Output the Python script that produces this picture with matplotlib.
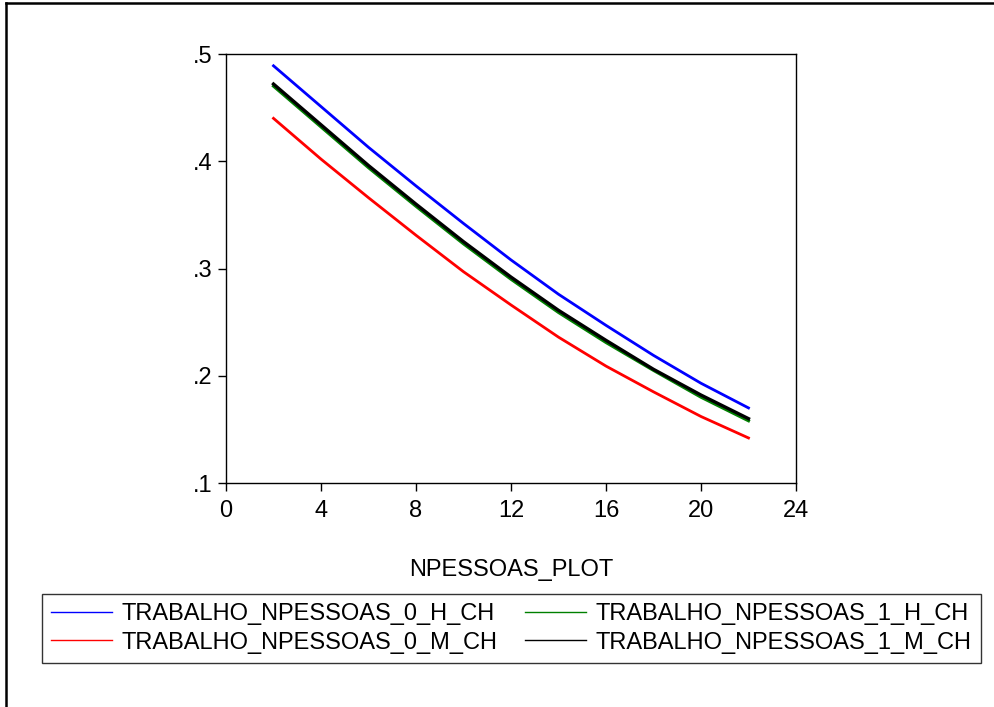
import matplotlib
matplotlib.use("Agg")
import matplotlib.pyplot as plt
from matplotlib.lines import Line2D

plt.rcParams['font.family'] = ['Liberation Sans', 'DejaVu Sans']

npessoas = [2, 4, 6, 8, 10, 12, 14, 16, 18, 20, 22]
h0 = [0.489, 0.451, 0.413, 0.377, 0.342, 0.308, 0.276, 0.247, 0.219, 0.193, 0.170]
m0 = [0.440, 0.402, 0.366, 0.331, 0.297, 0.266, 0.236, 0.209, 0.185, 0.162, 0.142]
h1 = [0.470, 0.432, 0.394, 0.358, 0.323, 0.290, 0.259, 0.231, 0.205, 0.180, 0.158]
m1 = [0.472, 0.434, 0.396, 0.360, 0.325, 0.292, 0.261, 0.233, 0.206, 0.182, 0.160]

labels = ["TRABALHO_NPESSOAS_0_H_CH", "TRABALHO_NPESSOAS_0_M_CH",
          "TRABALHO_NPESSOAS_1_H_CH", "TRABALHO_NPESSOAS_1_M_CH"]
xticks = [0, 4, 8, 12, 16, 20, 24]
yticks = [0.1, 0.2, 0.3, 0.4, 0.5]
yticklabels = [".1", ".2", ".3", ".4", ".5"]

FS = 17
W, H = 995, 707
fig = plt.figure(figsize=(W / 100, H / 100), dpi=100)
ax = fig.add_axes([226 / W, 1 - 483 / H, (796 - 226) / W, (483 - 54) / H])

ax.plot(npessoas, h0, color=(0, 0, 1), lw=2.0)
ax.plot(npessoas, m0, color=(1, 0, 0), lw=2.0)
ax.plot(npessoas, h1, color=(0, 0.5, 0), lw=2.2)
ax.plot(npessoas, m1, color='black', lw=2.4)

ax.set_xlim(0, 24)
ax.set_ylim(0.1, 0.5)
ax.set_xticks(xticks)
ax.set_xticklabels([str(t) for t in xticks])
ax.set_yticks(yticks)
ax.set_yticklabels(yticklabels)
ax.tick_params(direction='out', length=6, width=1.0, labelsize=FS, pad=4,
               top=False, right=False)
ax.tick_params(axis='x', pad=6)
for s in ax.spines.values():
    s.set_linewidth(1.0)

fig.text(511 / W, 1 - 570 / H, "NPESSOAS_PLOT", ha='center', va='center', fontsize=FS)

handles = [Line2D([], [], color=(0, 0, 1), lw=1.0),
           Line2D([], [], color=(1, 0, 0), lw=1.0),
           Line2D([], [], color=(0, 0.5, 0), lw=1.0),
           Line2D([], [], color='black', lw=1.0)]
leg = fig.legend(handles, labels, ncol=2, loc='upper left',
                 bbox_to_anchor=(42 / W, 1 - 594 / H),
                 fontsize=FS, frameon=True, fancybox=False,
                 edgecolor='black', borderpad=0.38, labelspacing=0.28,
                 handlelength=2.58, handletextpad=0.42, borderaxespad=0,
                 columnspacing=1.14)
leg.get_frame().set_linewidth(1.0)

# outer frame (left and top edges visible)
fig.add_artist(Line2D([6 / W, 6 / W], [0, 1 - 3 / H], color='black', lw=1.8,
                      transform=fig.transFigure))
fig.add_artist(Line2D([6 / W, 1], [1 - 3 / H, 1 - 3 / H], color='black', lw=1.8,
                      transform=fig.transFigure))

fig.savefig("out.png", dpi=100)
